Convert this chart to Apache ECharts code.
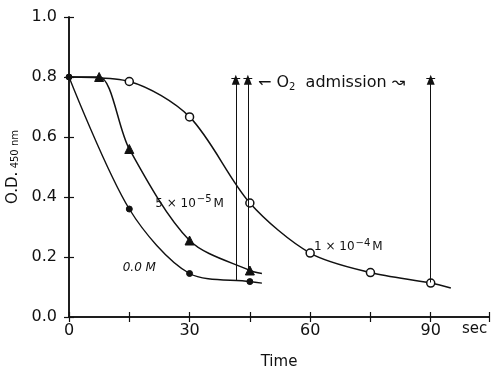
<!DOCTYPE html>
<html><head><meta charset="utf-8">
<script src="https://cdn.jsdelivr.net/npm/echarts@6/dist/echarts.min.js"></script>
<style>html,body{margin:0;padding:0;background:#fff}#c{width:491px;height:370px}</style>
</head><body><div id="c"></div>
<script>
// Data
const conc0 = [[0,0.80],[15,0.36],[30,0.145],[45,0.118],[48,0.113]];
const conc5e5 = [[0,0.80],[7.5,0.80],[15,0.56],[30,0.255],[45,0.155],[48,0.145]];
const conc1e4 = [[0,0.80],[15,0.785],[30,0.667],[45,0.38],[60,0.213],[75,0.148],[90,0.113],[95,0.097]];
const xTickLabels = [0,30,60,90];
const yTickLabels = ['0.0','0.2','0.4','0.6','0.8','1.0'];
const arrowTimes = [41.5, 44.5, 90];
const arrowFrom = [0.12, 0.158, 0.115];
const arrowTop = 0.795;

const chart = echarts.init(document.getElementById('c'), null, {renderer:'canvas'});
const FONT = 'DejaVu Sans';
const black = '#111';

function pts(arr, noMarkIdx){
  return arr.map((p,i)=> noMarkIdx.includes(i) ? {value:p, symbol:'none'} : {value:p});
}

const arrowLines = [];
arrowTimes.forEach((t,i)=>{
  arrowLines.push([{coord:[t,arrowFrom[i]], symbol:'none'},{coord:[t,arrowTop-0.004], symbol:'triangle', symbolSize:[8,10]}]);
  arrowLines.push([{coord:[t-1.1,arrowTop], symbol:'none'},{coord:[t+1.1,arrowTop], symbol:'none'}]);
});

const option = {
  backgroundColor:'#fff',
  animation:false,
  grid:{left:69, right:2, top:17, bottom:53, containLabel:false, outerBoundsMode:'none'},
  xAxis:[{
    type:'value', min:0, max:104.5, interval:15,
    name:'Time', nameLocation:'middle', nameGap:38,
    nameTextStyle:{fontFamily:FONT, fontSize:15, color:black},
    axisLine:{lineStyle:{color:black, width:1.5}},
    axisTick:{inside:true, length:5, lineStyle:{color:black, width:1.2}},
    axisLabel:{fontFamily:FONT, fontSize:16, color:black, margin:6,
      formatter:v=> xTickLabels.includes(v) ? String(v) : ''},
    splitLine:{show:false}
  },{
    type:'value', min:0, max:104.5, interval:15, position:'top',
    axisLine:{show:true, lineStyle:{color:black, width:1.5}},
    axisTick:{inside:true, length:5, lineStyle:{color:black, width:1.2}},
    axisLabel:{show:false}, splitLine:{show:false}
  }],
  yAxis:[{
    type:'value', min:0, max:1, interval:0.2,
    name:'{m|O.D.} {s|450 nm}', nameLocation:'middle', nameGap:45, nameRotate:90,
    nameTextStyle:{rich:{m:{fontFamily:FONT, fontSize:15, color:black},
                         s:{fontFamily:FONT, fontSize:10, color:black, padding:[6,0,0,0]}}},
    axisLine:{lineStyle:{color:black, width:1.5}},
    axisTick:{inside:true, length:5, lineStyle:{color:black, width:1.2}},
    axisLabel:{fontFamily:FONT, fontSize:16, color:black, margin:12,
      formatter:v=> yTickLabels[Math.round(v/0.2)]},
    splitLine:{show:false}
  },{
    type:'value', min:0, max:1, interval:0.2, position:'right',
    axisLine:{show:true, lineStyle:{color:black, width:1.5}},
    axisTick:{inside:true, length:5, lineStyle:{color:black, width:1.2}},
    axisLabel:{show:false}, splitLine:{show:false}
  }],
  series:[
    {
      name:'0.0 M', type:'line', smooth:0.3,
      data:pts(conc0,[4]),
      symbol:'circle', symbolSize:6, showAllSymbol:true,
      itemStyle:{color:black, borderColor:black},
      lineStyle:{color:black, width:1.4},
      markPoint:{symbol:'circle', symbolSize:0, silent:true,
        label:{show:true, position:'inside', fontFamily:FONT, fontSize:12, fontStyle:'italic', color:black,
          formatter:'0.0 M'},
        data:[{coord:[17.5,0.163]}]}
    },
    {
      name:'5 × 10⁻⁵ M', type:'line', smooth:0.3,
      data:pts(conc5e5,[0,5]),
      symbol:'triangle', symbolSize:9, showAllSymbol:true,
      itemStyle:{color:black, borderColor:black},
      lineStyle:{color:black, width:1.5},
      markPoint:{symbol:'circle', symbolSize:0, silent:true,
        label:{show:true, position:'inside', color:black,
          formatter:'{a|5 × 10}{b|−5}{a|M}',
          rich:{a:{fontFamily:FONT, fontSize:12, color:black, padding:[4,0,0,0]},
                b:{fontFamily:FONT, fontSize:10, color:black, padding:[0,2,4,1]}}},
        data:[{coord:[30,0.385]}]}
    },
    {
      name:'1 × 10⁻⁴ M', type:'line', smooth:0.3,
      data:pts(conc1e4,[0,7]),
      symbol:'circle', symbolSize:8, showAllSymbol:true,
      itemStyle:{color:'#fff', borderColor:black, borderWidth:1.5},
      lineStyle:{color:black, width:1.5},
      markPoint:{symbol:'circle', symbolSize:0, silent:true,
        label:{show:true, position:'inside', color:black,
          formatter:'{a|1 × 10}{b|−4}{a|M}',
          rich:{a:{fontFamily:FONT, fontSize:12, color:black, padding:[4,0,0,0]},
                b:{fontFamily:FONT, fontSize:10, color:black, padding:[0,2,4,1]}}},
        data:[{coord:[69.5,0.24]}]},
      markLine:{silent:true, symbol:['none','none'], animation:false,
        label:{show:false},
        lineStyle:{color:black, width:1, type:'solid'},
        emphasis:{disabled:true},
        data:arrowLines}
    }
  ],
  graphic:[
    {type:'text', left:462, top:322,
      style:{text:'sec', font:'15px "DejaVu Sans"', fill:black}},
    {type:'text', left:258, top:75,
      style:{text:'{a|↽ O}{s|2}{a|  admission ↝}',
        rich:{a:{fontFamily:FONT, fontSize:16, fill:black, color:black},
              s:{fontFamily:FONT, fontSize:10, fill:black, color:black, padding:[9,0,0,0]}}}}
  ]
};
chart.setOption(option);
</script>
</body></html>
